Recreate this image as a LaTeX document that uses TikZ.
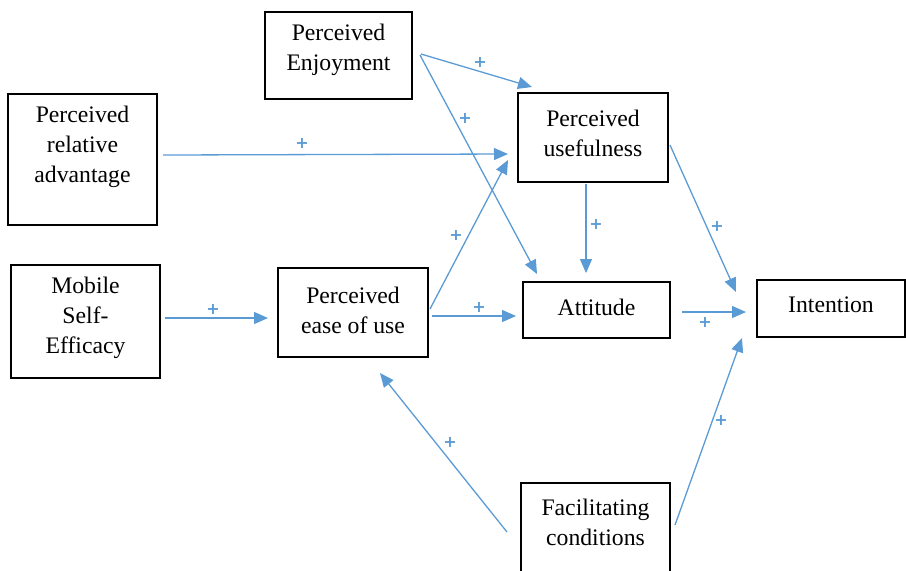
\documentclass[tikz,border=0pt]{standalone}
\usepackage{fontspec}
\setmainfont{Liberation Serif}
\newfontfamily\plusfont{DejaVu Sans}
\usetikzlibrary{arrows.meta,calc}
\definecolor{arr}{HTML}{5B9BD5}
\begin{document}
\begin{tikzpicture}[x=0.5pt,y=-0.5pt,
  box/.style={draw=black,line width=1pt,inner sep=0pt,fill=none},
  txt/.style={align=center,font=\fontsize{11.85}{15}\selectfont,inner sep=0pt},
  conn/.style={draw=arr,line width=0.65pt,-{Triangle[length=7pt,width=6pt]}},
  plus/.style={text=arr,font=\plusfont\bfseries\fontsize{8}{8}\selectfont,inner sep=0pt}]
\useasboundingbox (0,0) rectangle (906,570);
\clip (0,0) rectangle (906,570);
% boxes
\node[box,minimum width=73.5pt,minimum height=43.5pt] (enj) at (338.5,55.5) {};
\node[txt] (enjT) at (338.5,50) {Perceived\\Enjoyment};
\node[box,minimum width=74.5pt,minimum height=65.5pt] (adv) at (82.5,159.5) {};
\node[txt] (advT) at (82.5,147) {Perceived\\relative\\advantage};
\node[box,minimum width=75pt,minimum height=44.5pt] (use) at (593,137.5) {};
\node[txt] (useT) at (593,133) {Perceived\\usefulness};
\node[box,minimum width=74.5pt,minimum height=56.5pt] (mse) at (85.5,321.5) {};
\node[txt] (mseT) at (85.5,318) {Mobile\\Self-\\Efficacy};
\node[box,minimum width=75pt,minimum height=44.5pt] (eou) at (353,312.5) {};
\node[txt] (eouT) at (353,310) {Perceived\\ease of use};
\node[box,minimum width=73.5pt,minimum height=28pt] (att) at (596.5,310) {};
\node[txt] (attT) at (596.5,307) {Attitude};
\node[box,minimum width=74pt,minimum height=28.5pt] (int) at (831,308.5) {};
\node[txt] (intT) at (831,305) {Intention};
\node[box,minimum width=74.5pt,minimum height=60pt] (fac) at (595.5,543) {};
\node[txt] (facT) at (595.5,522) {Facilitating\\conditions};
% connector end points
\coordinate (a1) at (421,54);  \coordinate (b1) at (532,87);
\coordinate (a2) at (420,55);  \coordinate (b2) at (537,274);
\coordinate (a3) at (163,155); \coordinate (b3) at (508,154);
\coordinate (a4) at (586,184); \coordinate (b4) at (586,273);
\coordinate (a5) at (430,309); \coordinate (b5) at (508,160);
\coordinate (a6) at (432,316); \coordinate (b6) at (516,316);
\coordinate (a7) at (165,318); \coordinate (b7) at (268,318);
\coordinate (a8) at (670,145); \coordinate (b8) at (736,292);
\coordinate (a9) at (682,312); \coordinate (b9) at (746,312);
\coordinate (a10) at (675,525); \coordinate (b10) at (742,338);
\coordinate (a11) at (507,532); \coordinate (b11) at (380,373);
% connectors
\draw[conn] (a1) -- (b1);
\draw[conn] (a2) -- (b2);
\draw[conn] (a3) -- (b3);
\draw[conn] (a4) -- (b4);
\draw[conn] (a5) -- (b5);
\draw[conn] (a6) -- (b6);
\draw[conn] (a7) -- (b7);
\draw[conn] (a8) -- (b8);
\draw[conn] (a9) -- (b9);
\draw[conn] (a10) -- (b10);
\draw[conn] (a11) -- (b11);
% plus labels
\node[plus] (p1) at (480,62) {+};
\node[plus] (p2) at (465,118) {+};
\node[plus] (p3) at (302,143) {+};
\node[plus] (p4) at (596,224) {+};
\node[plus] (p5) at (456,235) {+};
\node[plus] (p6) at (479,307) {+};
\node[plus] (p7) at (213,309) {+};
\node[plus] (p8) at (717,226) {+};
\node[plus] (p9) at (705,322) {+};
\node[plus] (p10) at (721,420) {+};
\node[plus] (p11) at (450,442) {+};
\end{tikzpicture}
\end{document}
